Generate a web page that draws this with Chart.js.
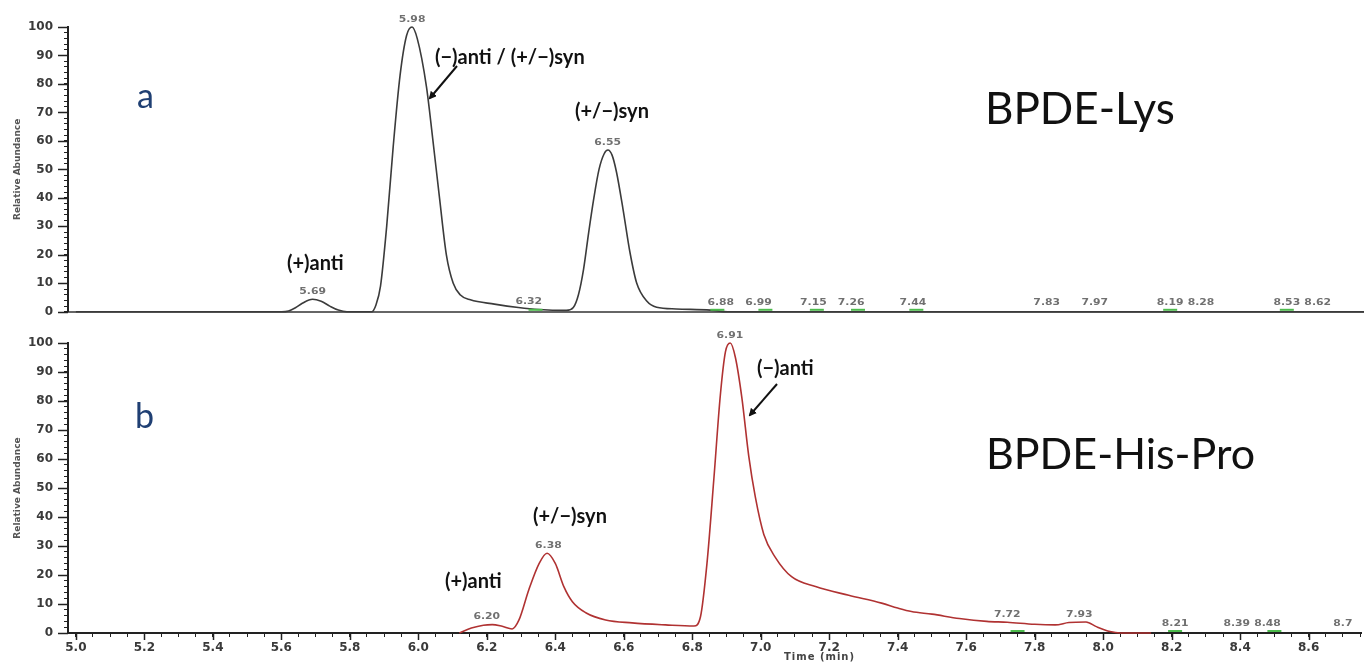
<!DOCTYPE html>
<html>
<head>
<meta charset="utf-8">
<script src="https://cdn.jsdelivr.net/npm/chart.js@4.4.1/dist/chart.umd.min.js"></script>
<style>
html, body { margin: 0; padding: 0; background: #fff; }
#wrap { position: relative; width: 1364px; height: 663px; overflow: hidden; }
canvas { position: absolute; left: 0; }
#cTop { top: 0; }
#cBot { top: 320px; }
.note { position: absolute; font-family: Lato, "Open Sans", sans-serif; font-weight: 700; font-size: 20px; color: #111; white-space: nowrap; line-height: 1; }
.big { position: absolute; font-family: Lato, "Open Sans", sans-serif; font-size: 44px; color: #111; white-space: nowrap; line-height: 1; }
.panel { position: absolute; font-family: Lato, "Open Sans", sans-serif; font-size: 34px; color: #1f3f73; line-height: 1; }
#xtitle { position: absolute; left: 784px; top: 651px; font-family: "DejaVu Sans", sans-serif; font-weight: bold; font-size: 10px; letter-spacing: 1px; color: #444; }
svg { position: absolute; left: 0; top: 0; }
</style>
</head>
<body>
<div id="wrap">
  <canvas id="cTop" width="1364" height="330"></canvas>
  <canvas id="cBot" width="1364" height="343"></canvas>

  <div class="panel" style="left:137px; top:78px;">a</div>
  <div class="panel" style="left:135px; top:398px;">b</div>
  <div class="big" style="left:985px; top:85px;">BPDE-Lys</div>
  <div class="big" style="left:986px; top:431px; font-size:43px;">BPDE-His-Pro</div>

  <div class="note" style="left:287px; top:252px;">(+)anti</div>
  <div class="note" style="left:435px; top:46px;">(−)anti / (+/−)syn</div>
  <div class="note" style="left:575px; top:100px;">(+/−)syn</div>
  <div class="note" style="left:757px; top:357px;">(−)anti</div>
  <div class="note" style="left:533px; top:505px;">(+/−)syn</div>
  <div class="note" style="left:445px; top:570px;">(+)anti</div>
  <div id="xtitle">Time (min)</div>

  <svg width="1364" height="663">
    <defs>
      <marker id="ah" markerWidth="8" markerHeight="8" refX="6" refY="4" orient="auto" markerUnits="userSpaceOnUse">
        <path d="M0,0 L8,4 L0,8 z" fill="#111"/>
      </marker>
    </defs>
    <line x1="457" y1="66" x2="430" y2="98" stroke="#111" stroke-width="2" marker-end="url(#ah)"/>
    <line x1="777" y1="384" x2="750" y2="415" stroke="#111" stroke-width="2" marker-end="url(#ah)"/>
  </svg>
</div>

<script>
// chromatogram a : BPDE-Lys (time in min, relative abundance)
const topTime = [5.0, 5.6, 5.62, 5.64, 5.66, 5.69, 5.715, 5.74, 5.765, 5.79, 5.862, 5.875, 5.888, 5.906, 5.925, 5.945, 5.964, 5.98, 5.995, 6.022, 6.04, 6.06, 6.08, 6.10, 6.12, 6.15, 6.22, 6.29, 6.35, 6.43, 6.45, 6.465, 6.48, 6.495, 6.51, 6.525, 6.54, 6.551, 6.563, 6.576, 6.595, 6.615, 6.635, 6.664, 6.693, 6.75, 6.85, 6.9, 8.755];
const topSignal = [0, 0, 0.3, 1.4, 3.0, 4.4, 3.7, 2.0, 0.6, 0, 0, 2.5, 9, 30, 58, 83, 97, 100, 96, 79, 61, 40, 20, 10, 6, 4.2, 2.7, 1.5, 0.8, 0.5, 1.5, 6, 15, 28, 40, 50, 55.5, 56.8, 55, 49, 36, 21, 10, 3.8, 1.6, 1.0, 0.6, 0, 0];

// chromatogram b : BPDE-His-Pro
const botTime = [6.12, 6.155, 6.19, 6.216, 6.245, 6.274, 6.294, 6.323, 6.353, 6.376, 6.40, 6.425, 6.45, 6.489, 6.547, 6.624, 6.722, 6.805, 6.824, 6.843, 6.863, 6.882, 6.897, 6.911, 6.926, 6.945, 6.965, 6.984, 7.009, 7.043, 7.09, 7.16, 7.257, 7.353, 7.40, 7.44, 7.50, 7.58, 7.66, 7.72, 7.80, 7.86, 7.90, 7.95, 7.98, 8.02, 8.05, 8.14];
const botSignal = [0, 1.7, 2.7, 2.9, 2.3, 1.4, 4.5, 15, 24, 27.5, 24, 16, 10.8, 7, 4.5, 3.5, 2.8, 2.4, 5.6, 24, 53, 82, 97, 100, 95, 81, 61, 47, 34, 26, 19.4, 16, 13, 10.3, 8.6, 7.4, 6.5, 5.0, 4.0, 3.7, 3.0, 2.8, 3.6, 3.8, 2.2, 0.5, 0, 0];

// retention time labels printed over the peaks
const topPeakLabels = ['5.69', '5.98', '6.32', '6.55', '6.88', '6.99', '7.15', '7.26', '7.44', '7.83', '7.97', '8.19', '8.28', '8.53', '8.62'];
const topPeakHeights = [4.4, 100, 0.8, 56.8, 0.5, 0.5, 0.5, 0.5, 0.5, 0.5, 0.5, 0.5, 0.5, 0.5, 0.5];
const botPeakLabels = ['6.20', '6.38', '6.91', '7.72', '7.93', '8.21', '8.39', '8.48', '8.7'];
const botPeakHeights = [3.0, 27.5, 100, 3.7, 3.8, 0.5, 0.5, 0.5, 0.5];

// small green integration marks on the baseline
const topMarks = [6.34, 6.87, 7.01, 7.16, 7.28, 7.45, 8.19, 8.53];
const botMarks = [7.75, 8.21, 8.50];

const xTickLabels = ['5.0', '5.2', '5.4', '5.6', '5.8', '6.0', '6.2', '6.4', '6.6', '6.8', '7.0', '7.2', '7.4', '7.6', '7.8', '8.0', '8.2', '8.4', '8.6'];
const yTickLabels = ['0', '10', '20', '30', '40', '50', '60', '70', '80', '90', '100'];

const X_MIN = 4.977, X_MAX = 8.755;
const tickFont = { family: 'DejaVu Sans', size: 12, weight: 'bold' };

const marksPlugin = {
    id: 'marks',
    afterDatasetsDraw(chart, args, opts) {
        const ctx = chart.ctx;
        const xs = chart.scales.x, ys = chart.scales.y;
        ctx.save();
        // green baseline marks
        ctx.strokeStyle = '#4cbb4c';
        ctx.lineWidth = 2;
        opts.marks.forEach(t => {
            const x = xs.getPixelForValue(t), y = ys.getPixelForValue(0) - 2;
            ctx.beginPath();
            ctx.moveTo(x - 7, y);
            ctx.lineTo(x + 7, y);
            ctx.stroke();
        });
        // peak labels
        ctx.fillStyle = '#707070';
        ctx.font = 'bold 9px "DejaVu Sans"';
        ctx.textAlign = 'center';
        ctx.textBaseline = 'bottom';
        opts.labels.forEach((lab, i) => {
            const x = xs.getPixelForValue(parseFloat(lab));
            const y = ys.getPixelForValue(opts.heights[i]) - 3;
            ctx.save();
            ctx.translate(x, y);
            ctx.scale(1.2, 1);
            ctx.fillText(lab, 0, 0);
            ctx.restore();
        });
        ctx.restore();
    },
    afterDraw(chart, args, opts) {
        // longer ticks at the labelled values
        const ctx = chart.ctx;
        const xs = chart.scales.x, ys = chart.scales.y;
        const area = chart.chartArea;
        ctx.save();
        ctx.strokeStyle = '#222';
        ctx.lineWidth = 1.5;
        yTickLabels.forEach(v => {
            const y = Math.round(ys.getPixelForValue(+v)) + 0.5;
            ctx.beginPath();
            ctx.moveTo(area.left - 10, y);
            ctx.lineTo(area.left, y);
            ctx.stroke();
        });
        if (opts.xMajor) {
            xTickLabels.forEach(v => {
                const x = Math.round(xs.getPixelForValue(+v)) + 0.5;
                ctx.beginPath();
                ctx.moveTo(x, area.bottom);
                ctx.lineTo(x, area.bottom + 7);
                ctx.stroke();
            });
        }
        ctx.restore();
    }
};

function makeChart(id, times, values, color, opts) {
    const ctx = document.getElementById(id).getContext('2d');
    return new Chart(ctx, {
        type: 'line',
        data: {
            datasets: [{
                data: times.map((t, i) => ({ x: t, y: values[i] })),
                borderColor: color,
                borderWidth: 1.6,
                pointRadius: 0,
                cubicInterpolationMode: 'monotone',
                fill: false,
                clip: false
            }]
        },
        options: {
            responsive: false,
            animation: false,
            layout: { padding: { top: opts.top, left: 0, right: 0, bottom: 0 } },
            plugins: {
                legend: { display: false },
                tooltip: { enabled: false },
                marks: { marks: opts.marks, labels: opts.labels, heights: opts.heights, xMajor: opts.showX }
            },
            scales: {
                x: {
                    type: 'linear',
                    min: X_MIN,
                    max: X_MAX,
                    afterFit: s => { s.height = opts.xHeight; },
                    border: { display: true, color: opts.showX ? '#222' : '#666', width: 2 },
                    grid: { display: opts.showX, drawOnChartArea: false, tickLength: 4, color: '#222' },
                    ticks: {
                        display: opts.showX,
                        stepSize: 0.05,
                        includeBounds: false,
                        autoSkip: false,
                        maxRotation: 0,
                        padding: 4,
                        color: '#3a3a3a',
                        font: tickFont,
                        callback: v => {
                            const s = v.toFixed(1);
                            return (Math.abs(v - +s) < 1e-6 && xTickLabels.includes(s)) ? s : '';
                        }
                    }
                },
                y: {
                    min: 0,
                    max: 100,
                    afterFit: s => { s.width = 68; },
                    border: { display: true, color: '#222', width: 2 },
                    grid: { drawOnChartArea: false, tickLength: 4, color: '#222' },
                    title: {
                        display: true,
                        text: 'Relative Abundance',
                        color: '#555',
                        font: { family: 'DejaVu Sans', size: 9, weight: 'bold' },
                        padding: { top: 12, bottom: 0 }
                    },
                    ticks: {
                        stepSize: 2,
                        autoSkip: false,
                        padding: 11,
                        color: '#3a3a3a',
                        font: tickFont,
                        callback: v => yTickLabels.includes(String(v)) ? String(v) : ''
                    }
                }
            }
        },
        plugins: [marksPlugin]
    });
}

makeChart('cTop', topTime, topSignal, '#3b3b3b', {
    top: 27, xHeight: 7, showX: false,
    marks: topMarks, labels: topPeakLabels, heights: topPeakHeights
});
makeChart('cBot', botTime, botSignal, '#b03232', {
    top: 23, xHeight: 30, showX: true,
    marks: botMarks, labels: botPeakLabels, heights: botPeakHeights
});
</script>
</body>
</html>
